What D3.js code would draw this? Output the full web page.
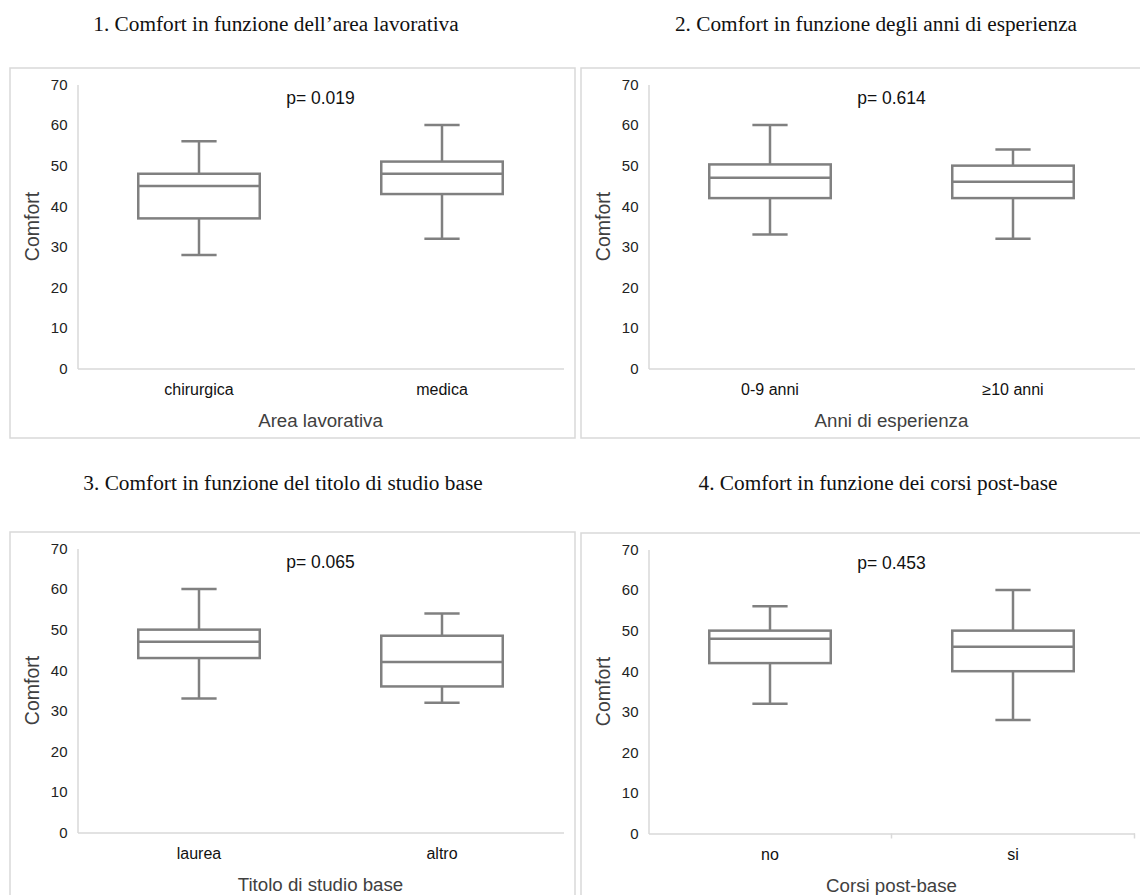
<!DOCTYPE html>
<html>
<head>
<meta charset="utf-8">
<script src="https://cdn.jsdelivr.net/npm/d3@7"></script>
<style>
  body { margin: 0; background: #fff; }
  svg { display: block; }
</style>
</head>
<body>
<svg id="chart" width="1140" height="895"></svg>
<script>
// chart data
const titles = [
  "1. Comfort in funzione dell\u2019area lavorativa",
  "2. Comfort in funzione degli anni di esperienza",
  "3. Comfort in funzione del titolo di studio base",
  "4. Comfort in funzione dei corsi post-base"
];
const xTitles = ["Area lavorativa", "Anni di esperienza", "Titolo di studio base", "Corsi post-base"];
const categories = [
  ["chirurgica", "medica"],
  ["0-9 anni", "\u226510 anni"],
  ["laurea", "altro"],
  ["no", "si"]
];
const pValues = ["p= 0.019", "p= 0.614", "p= 0.065", "p= 0.453"];
const lowValues    = [[28, 32], [33, 32], [33, 32], [32, 28]];
const q1Values     = [[37, 43], [42, 42], [43, 36], [42, 40]];
const medianValues = [[45, 48], [47, 46], [47, 42], [48, 46]];
const q3Values     = [[48, 51], [50.3, 50], [50, 48.5], [50, 50]];
const highValues   = [[56, 60], [60, 54], [60, 54], [56, 60]];
const yTicks = [0, 10, 20, 30, 40, 50, 60, 70];

// layout of the four frames
const frames = [
  {x: 10, y: 68, w: 565, h: 370, tx: 276, ty: 24},
  {x: 581, y: 68, w: 562, h: 370, tx: 876, ty: 24},
  {x: 10, y: 532, w: 565, h: 372, tx: 283, ty: 483},
  {x: 581, y: 533, w: 562, h: 372, tx: 878, ty: 483}
];

const svg = d3.select("#chart");
const boxColor = "#808080";
const axisColor = "#d9d9d9";
const sans = "'Liberation Sans', Arial, sans-serif";

frames.forEach(function(f, i) {
  // panel title
  svg.append("text")
    .attr("x", f.tx).attr("y", f.ty)
    .attr("text-anchor", "middle")
    .attr("dominant-baseline", "central")
    .style("font-family", "'Liberation Serif', 'Times New Roman', serif")
    .style("font-size", "21.3px")
    .attr("fill", "#111")
    .text(titles[i]);

  // frame
  svg.append("rect")
    .attr("x", f.x).attr("y", f.y)
    .attr("width", f.w).attr("height", f.h)
    .attr("fill", "#fff")
    .attr("stroke", axisColor)
    .attr("stroke-width", 1.5);

  const left = f.x + 67.5, right = f.x + 553.5;
  const top = f.y + 16.5, bottom = f.y + 300.5;

  const y = d3.scaleLinear().domain([0, 70]).range([bottom, top]);
  const x = d3.scaleBand().domain(categories[i]).range([left, right]).padding(0);
  const bw = x.bandwidth();

  const g = svg.append("g");

  // y axis
  const yAxis = d3.axisLeft(y).tickValues(yTicks).tickSize(0).tickPadding(10);
  const ya = g.append("g").attr("transform", "translate(" + left + ",0)").call(yAxis);
  ya.select(".domain").attr("stroke", axisColor).attr("stroke-width", 1.5);
  ya.selectAll("text")
    .style("font-family", sans)
    .style("font-size", "15px")
    .attr("fill", "#222");

  // x axis
  const xAxis = d3.axisBottom(x).tickSize(0).tickPadding(15);
  const xa = g.append("g").attr("transform", "translate(0," + bottom + ")").call(xAxis);
  xa.select(".domain").attr("stroke", axisColor).attr("stroke-width", 1.5);
  xa.selectAll("text")
    .style("font-family", sans)
    .style("font-size", "16px")
    .attr("fill", "#111");

  // category separator ticks on the last panel
  if (i === 3) {
    g.selectAll("line.sep")
      .data([x.domain()[1], null])
      .enter().append("line")
      .attr("x1", function(d) { return d ? x(d) : right; })
      .attr("x2", function(d) { return d ? x(d) : right; })
      .attr("y1", bottom).attr("y2", bottom + 5)
      .attr("stroke", axisColor).attr("stroke-width", 1.5);
  }

  // axis titles
  g.append("text")
    .attr("transform", "translate(" + (f.x + 22) + "," + ((top + bottom) / 2) + ") rotate(-90)")
    .attr("text-anchor", "middle")
    .attr("dominant-baseline", "central")
    .style("font-family", sans)
    .style("font-size", "19.5px")
    .attr("fill", "#404040")
    .text("Comfort");

  g.append("text")
    .attr("x", (left + right) / 2).attr("y", bottom + 52)
    .attr("text-anchor", "middle")
    .attr("dominant-baseline", "central")
    .style("font-family", sans)
    .style("font-size", "18.7px")
    .attr("fill", "#404040")
    .text(xTitles[i]);

  // p value
  g.append("text")
    .attr("x", (left + right) / 2).attr("y", top + 13)
    .attr("text-anchor", "middle")
    .attr("dominant-baseline", "central")
    .style("font-family", sans)
    .style("font-size", "17.5px")
    .attr("fill", "#111")
    .text(pValues[i]);

  // boxes
  const rows = categories[i].map(function(c, j) {
    return {cat: c, lo: lowValues[i][j], q1: q1Values[i][j], med: medianValues[i][j], q3: q3Values[i][j], hi: highValues[i][j]};
  });
  const boxes = g.selectAll("g.box").data(rows).enter().append("g");
  const cx = function(d) { return x(d.cat) + bw / 2; };
  const boxW = bw * 0.5, capW = bw * 0.145;

  boxes.append("line")
    .attr("x1", cx).attr("x2", cx)
    .attr("y1", function(d) { return y(d.hi); })
    .attr("y2", function(d) { return y(d.lo); })
    .attr("stroke", boxColor).attr("stroke-width", 2.5);
  boxes.append("line")
    .attr("x1", function(d) { return cx(d) - capW / 2; })
    .attr("x2", function(d) { return cx(d) + capW / 2; })
    .attr("y1", function(d) { return y(d.hi); })
    .attr("y2", function(d) { return y(d.hi); })
    .attr("stroke", boxColor).attr("stroke-width", 2.5);
  boxes.append("line")
    .attr("x1", function(d) { return cx(d) - capW / 2; })
    .attr("x2", function(d) { return cx(d) + capW / 2; })
    .attr("y1", function(d) { return y(d.lo); })
    .attr("y2", function(d) { return y(d.lo); })
    .attr("stroke", boxColor).attr("stroke-width", 2.5);
  boxes.append("rect")
    .attr("x", function(d) { return cx(d) - boxW / 2; })
    .attr("y", function(d) { return y(d.q3); })
    .attr("width", boxW)
    .attr("height", function(d) { return y(d.q1) - y(d.q3); })
    .attr("fill", "#fff")
    .attr("stroke", boxColor).attr("stroke-width", 2.5);
  boxes.append("line")
    .attr("x1", function(d) { return cx(d) - boxW / 2; })
    .attr("x2", function(d) { return cx(d) + boxW / 2; })
    .attr("y1", function(d) { return y(d.med); })
    .attr("y2", function(d) { return y(d.med); })
    .attr("stroke", boxColor).attr("stroke-width", 2.5);
});
</script>
</body>
</html>
